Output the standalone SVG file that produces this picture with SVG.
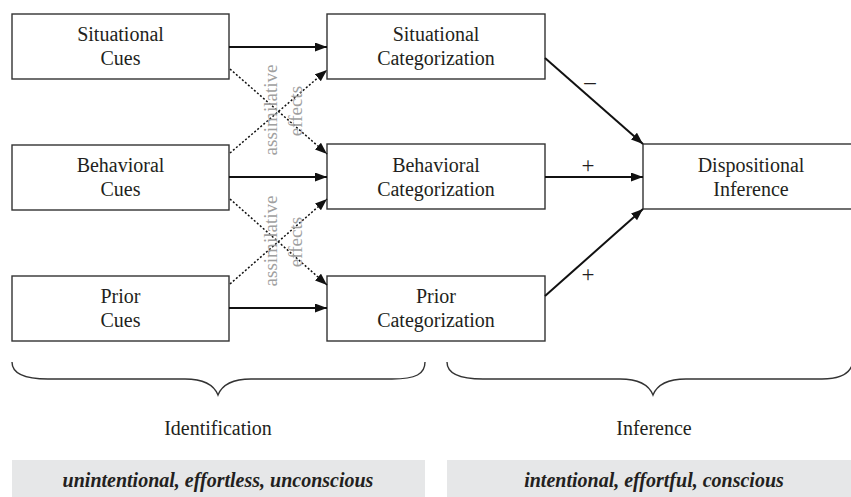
<svg xmlns="http://www.w3.org/2000/svg" width="851" height="497" viewBox="0 0 851 497">
<style>
.box{fill:#fff;stroke:#333;stroke-width:1.4}
.t{font-family:"Liberation Serif","DejaVu Serif",serif;font-size:20px;fill:#231f20;text-anchor:middle}
.s{font-family:"Liberation Serif","DejaVu Serif",serif;font-size:23px;fill:#231f20;text-anchor:middle}
.g{font-family:"Liberation Serif","DejaVu Serif",serif;font-size:19px;fill:#a0a0a0;text-anchor:middle}
.a{stroke:#111;stroke-width:2;fill:none}
.d{stroke:#111;stroke-width:1.5;stroke-dasharray:2 2;fill:none}
.br{stroke:#333;stroke-width:1.4;fill:none}
.band{fill:#e6e7e8}
.bi{font-family:"Liberation Serif","DejaVu Serif",serif;font-size:20px;font-weight:bold;font-style:italic;fill:#231f20;text-anchor:middle}
</style>
<defs>
<marker id="ah" markerUnits="userSpaceOnUse" markerWidth="13" markerHeight="10" refX="12" refY="4.5" orient="auto">
<path d="M0,0 L12,4.5 L0,9 z" fill="#111"/>
</marker>
</defs>
<rect width="851" height="497" fill="#fff"/>

<g id="sit-cues"><rect class="box" x="12" y="14" width="217" height="65"/><text class="t" x="120.5" y="41">Situational</text><text class="t" x="120.5" y="65">Cues</text></g>
<g id="beh-cues"><rect class="box" x="12" y="145" width="217" height="65"/><text class="t" x="120.5" y="172">Behavioral</text><text class="t" x="120.5" y="196">Cues</text></g>
<g id="prior-cues"><rect class="box" x="12" y="276" width="217" height="65"/><text class="t" x="120.5" y="303">Prior</text><text class="t" x="120.5" y="327">Cues</text></g>

<g id="sit-cat"><rect class="box" x="327" y="14" width="218" height="65"/><text class="t" x="436" y="41">Situational</text><text class="t" x="436" y="65">Categorization</text></g>
<g id="beh-cat"><rect class="box" x="327" y="144" width="218" height="65"/><text class="t" x="436" y="172">Behavioral</text><text class="t" x="436" y="196">Categorization</text></g>
<g id="prior-cat"><rect class="box" x="327" y="276" width="218" height="65"/><text class="t" x="436" y="303">Prior</text><text class="t" x="436" y="327">Categorization</text></g>

<g id="disp"><rect class="box" x="643" y="144" width="220" height="65"/><text class="t" x="751" y="172">Dispositional</text><text class="t" x="751" y="196">Inference</text></g>

<g id="connectors">
<line class="a" x1="229" y1="47" x2="327" y2="47" marker-end="url(#ah)"/>
<line class="a" x1="229" y1="177" x2="327" y2="177" marker-end="url(#ah)"/>
<line class="a" x1="229" y1="308" x2="327" y2="308" marker-end="url(#ah)"/>
<line class="d" x1="230" y1="69" x2="327" y2="154" marker-end="url(#ah)"/>
<line class="d" x1="230" y1="153" x2="327" y2="70" marker-end="url(#ah)"/>
<line class="d" x1="230" y1="199" x2="327" y2="285" marker-end="url(#ah)"/>
<line class="d" x1="230" y1="284" x2="327" y2="199" marker-end="url(#ah)"/>
<line class="a" x1="545" y1="58" x2="643" y2="144" marker-end="url(#ah)"/>
<line class="a" x1="545" y1="177" x2="643" y2="177" marker-end="url(#ah)"/>
<line class="a" x1="545" y1="296" x2="643" y2="209" marker-end="url(#ah)"/>
<text class="s" x="590" y="89">–</text>
<text class="s" x="588" y="173">+</text>
<text class="s" x="588" y="282">+</text>
<text class="g" transform="translate(277,110) rotate(-90)">assimilative</text>
<text class="g" transform="translate(302,111) rotate(-90)">effects</text>
<text class="g" transform="translate(277,241) rotate(-90)">assimilative</text>
<text class="g" transform="translate(302,242) rotate(-90)">effects</text>
</g>

<g id="brace-identification">
<path class="br" d="M12,362 C12,374 24,379 48,379 L185,379 C205,379 214,385 218,395 C222,385 231,379 251,379 L392,379 C416,379 425,374 425,362"/>
<text class="t" x="218" y="435">Identification</text>
<rect class="band" x="12" y="460" width="413" height="37"/>
<text class="bi" x="218" y="487">unintentional, effortless, unconscious</text>
</g>
<g id="brace-inference">
<path class="br" d="M447,362 C447,374 459,379 483,379 L620,379 C640,379 649,385 653,395 C657,385 666,379 686,379 L822,379 C842,379 851,372 853,362"/>
<text class="t" x="654" y="435">Inference</text>
<rect class="band" x="447" y="460" width="404" height="37"/>
<text class="bi" x="654" y="487">intentional, effortful, conscious</text>
</g>
</svg>
